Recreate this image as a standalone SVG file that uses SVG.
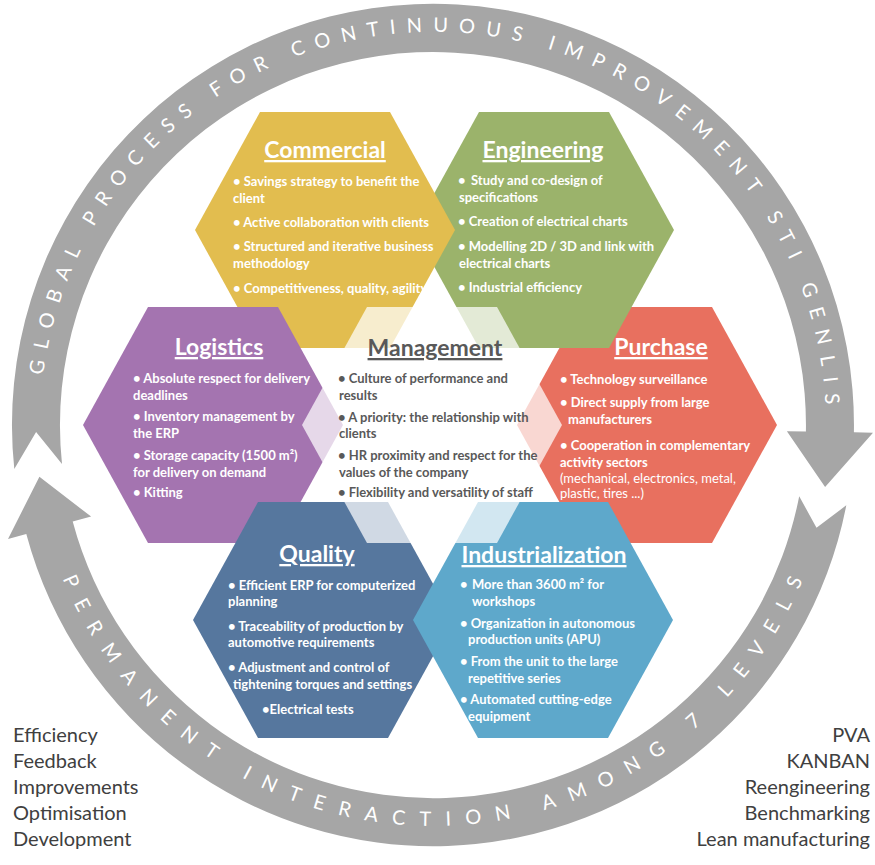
<svg xmlns="http://www.w3.org/2000/svg" xmlns:xlink="http://www.w3.org/1999/xlink" width="875" height="865" viewBox="0 0 875 865">
<style>
.ring{fill:#a6a6a6}
.rt{font-family:Lato,"Open Sans","Liberation Sans",sans-serif;font-size:20px;fill:#fff}
.t{font-family:Lato,"Open Sans","Liberation Sans",sans-serif;font-weight:700;font-size:13px;fill:#fff}
.r{font-weight:400}
.h{font-family:Lato,"Open Sans","Liberation Sans",sans-serif;font-weight:700;font-size:23px;fill:#fff;text-decoration:underline;text-anchor:middle}
.m{fill:#595959}
.side{font-family:Lato,"Open Sans","Liberation Sans",sans-serif;font-size:20px;fill:#404040}
.e{text-anchor:end}
</style>
<defs>
<polygon id="hex" points="-130,0 -65,-118 65,-118 130,0 65,118 -65,118"/>
<path id="topArc" d="M43.2,375.1 A393,393 0 0 1 825.5,404.4"/>
<path id="botArc" d="M62.5,578.5 A401,401 0 0 0 802.9,579.8"/>
</defs>
<rect width="875" height="865" fill="#fff"/>
<g id="connectors">
<path id="ring-top" class="ring" d="M14.3,469 A421,421 0 1 1 853.9,432.3 L873,432.7 L825.1,487.1 L786.9,431.2 L805.9,431.5 A373,373 0 1 0 62,464 L36.1,431.9 Z"/>
<path id="ring-bottom" class="ring" d="M846.3,505.3 A421,421 0 0 1 26.3,534 L8,538.9 L39.4,476.8 L91.1,516.6 L72.7,521.5 A373,373 0 0 0 799.2,496.2 L816.5,527.8 Z"/>
<text class="rt"><textPath xlink:href="#topArc" href="#topArc" textLength="1164" lengthAdjust="spacing">GLOBAL PROCESS FOR CONTINUOUS IMPROVEMENT STI GENLIS</textPath></text>
<text class="rt"><textPath xlink:href="#botArc" href="#botArc" textLength="943" lengthAdjust="spacing">PERMANENT INTERACTION AMONG 7 LEVELS</textPath></text>
</g>
<g id="purchase">
<use href="#hex" transform="translate(647,425)" fill="#e8705f"/>
<text class="h" x="661" y="355">Purchase</text>
<text class="t" x="560" y="384">• Technology surveillance</text>
<text class="t" x="560" y="407">• Direct supply from large</text>
<text class="t" x="568" y="424">manufacturers</text>
<text class="t" x="560" y="450">• Cooperation in complementary</text>
<text class="t" x="560" y="467">activity sectors</text>
<text class="t r" x="560" y="483">(mechanical, electronics, metal,</text>
<text class="t r" x="560" y="498">plastic, tires ...)</text>
</g>
<g id="engineering">
<use href="#hex" transform="translate(544,230)" fill="#9bb36b"/>
<text class="h" x="543" y="158">Engineering</text>
<text class="t" x="458" y="185">•</text>
<text class="t" x="471" y="185">Study and co-design of</text>
<text class="t" x="459" y="202">specifications</text>
<text class="t" x="458" y="226">• Creation of electrical charts</text>
<text class="t" x="458" y="251">• Modelling 2D / 3D and link with</text>
<text class="t" x="459" y="268">electrical charts</text>
<text class="t" x="458" y="292">• Industrial efficiency</text>
</g>
<g id="commercial">
<use href="#hex" transform="translate(325,230)" fill="#e2bd4f"/>
<text class="h" x="325" y="158">Commercial</text>
<text class="t" x="233" y="186">• Savings strategy to benefit the</text>
<text class="t" x="233" y="203">client</text>
<text class="t" x="233" y="227">• Active collaboration with clients</text>
<text class="t" x="233" y="251">• Structured and iterative business</text>
<text class="t" x="233" y="268">methodology</text>
<text class="t" x="233" y="293">• Competitiveness, quality, agility</text>
</g>
<g id="logistics">
<use href="#hex" transform="translate(213,425)" fill="#a474b0"/>
<text class="h" x="219" y="355">Logistics</text>
<text class="t" x="133" y="383">• Absolute respect for delivery</text>
<text class="t" x="133" y="400">deadlines</text>
<text class="t" x="133" y="421">• Inventory management by</text>
<text class="t" x="133" y="438">the ERP</text>
<text class="t" x="133" y="460">• Storage capacity (1500 m²)</text>
<text class="t" x="133" y="477">for delivery on demand</text>
<text class="t" x="133" y="497">• Kitting</text>
</g>
<g id="quality">
<use href="#hex" transform="translate(323,620)" fill="#56779e"/>
<text class="h" x="317" y="562">Quality</text>
<text class="t" x="228" y="590">• Efficient ERP for computerized</text>
<text class="t" x="228" y="606">planning</text>
<text class="t" x="228" y="631">• Traceability of production by</text>
<text class="t" x="228" y="647">automotive requirements</text>
<text class="t" x="228" y="672">• Adjustment and control of</text>
<text class="t" x="233" y="689">tightening torques and settings</text>
<text class="t" x="262" y="714">•Electrical tests</text>
</g>
<g id="industrialization">
<use href="#hex" transform="translate(543,620)" fill="#5ea8cb"/>
<text class="h" x="544" y="563">Industrialization</text>
<text class="t" x="460" y="589">•</text>
<text class="t" x="472" y="589">More than 3600 m² for</text>
<text class="t" x="472" y="606">workshops</text>
<text class="t" x="460" y="628">• Organization in autonomous</text>
<text class="t" x="468" y="644">production units (APU)</text>
<text class="t" x="460" y="666">• From the unit to the large</text>
<text class="t" x="468" y="683">repetitive series</text>
<text class="t" x="460" y="704">• Automated cutting-edge</text>
<text class="t" x="468" y="721">equipment</text>
</g>
<g id="management">
<use href="#hex" transform="translate(432,425)" fill="#fff" fill-opacity="0.72"/>
<text class="h m" x="435" y="356">Management</text>
<text class="t m" x="338" y="383">• Culture of performance and</text>
<text class="t m" x="339" y="400">results</text>
<text class="t m" x="338" y="422">• A priority: the relationship with</text>
<text class="t m" x="339" y="438">clients</text>
<text class="t m" x="338" y="460">• HR proximity and respect for the</text>
<text class="t m" x="339" y="477">values of the company</text>
<text class="t m" x="338" y="497">• Flexibility and versatility of staff</text>
</g>
<g id="methods-left">
<text class="side" x="13" y="742">Efficiency</text>
<text class="side" x="13" y="768">Feedback</text>
<text class="side" x="13" y="794">Improvements</text>
<text class="side" x="13" y="820">Optimisation</text>
<text class="side" x="13" y="846">Development</text>
</g>
<g id="methods-right">
<text class="side e" x="870" y="742">PVA</text>
<text class="side e" x="870" y="768">KANBAN</text>
<text class="side e" x="870" y="794">Reengineering</text>
<text class="side e" x="870" y="820">Benchmarking</text>
<text class="side e" x="870" y="846">Lean manufacturing</text>
</g>
</svg>
